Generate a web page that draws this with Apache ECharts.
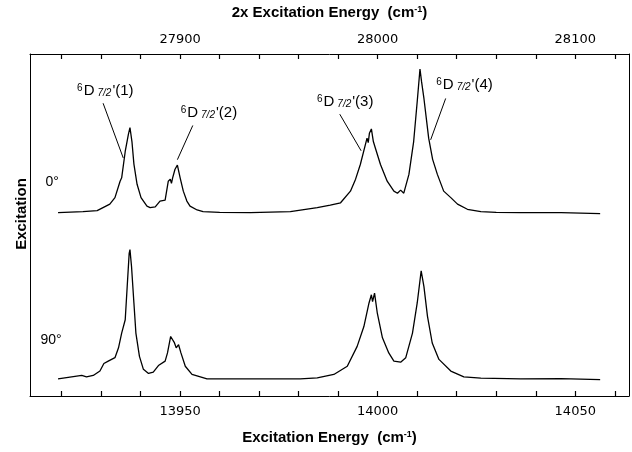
<!DOCTYPE html>
<html>
<head>
<meta charset="utf-8">
<script src="https://cdn.jsdelivr.net/npm/echarts@6/dist/echarts.min.js"></script>
<style>
  html, body { margin: 0; padding: 0; background: #fff; }
  #main { width: 632px; height: 452px; }
</style>
</head>
<body>
<div id="main"></div>
<script>
// energies (cm-1) and excitation signal, 0 deg trace
var energy0 = [13919.1, 13925.4, 13929.0, 13932.2, 13933.5, 13934.8, 13935.2, 13936.1, 13936.9, 13937.3,
  13937.8, 13938.3, 13939.1, 13940.1, 13941.6, 13942.4, 13943.7, 13944.9, 13946.2, 13947.0,
  13947.5, 13947.8, 13948.1, 13948.7, 13949.3, 13950.0, 13950.8, 13951.7, 13952.5, 13954.3,
  13955.8, 13960.0, 13967.8, 13977.9, 13984.7, 13988.0, 13990.6, 13993.1, 13994.4, 13995.6, 13997.3,
  13997.6, 13997.9, 13998.4, 13998.9, 13999.4, 14000.7, 14002.4, 14004.1, 14005.0, 14005.8,
  14006.6, 14007.9, 14009.1, 14010.0, 14010.7, 14011.1, 14011.7, 14012.9, 14013.9, 14015.1,
  14016.7, 14018.5, 14020.2, 14022.7, 14026.1, 14030.0, 14036.2, 14046.4, 14056.3];
var exc0 = [0, 0.3, 0.6, 2.5, 4.4, 9.2, 10.2, 17.9, 22.9, 24.9,
  20.8, 14.2, 8.3, 4.4, 1.9, 1.5, 1.7, 3.4, 3.7, 9.2,
  9.8, 8.6, 10.2, 12.7, 13.9, 10.2, 6.3, 3.4, 1.9, 0.8,
  0.3, 0.1, 0, 0.3, 1.5, 2.2, 2.9, 6.3, 9.8, 14.1, 21.8,
  20.5, 23.2, 24.5, 20.8, 18.9, 14.1, 9.2, 6.3, 5.7, 6.6,
  5.7, 11.2, 20.8, 32.5, 42.0, 38.3, 33.4, 21.8, 15.6, 11.2,
  6.3, 4.4, 2.5, 1.0, 0.3, 0.1, 0, 0, -0.3];

// 90 deg trace
var energy90 = [13919.1, 13925.1, 13926.3, 13928.0, 13929.7, 13930.7, 13931.8, 13933.5, 13934.4, 13935.2,
  13936.1, 13936.6, 13937.1, 13937.3, 13937.7, 13938.3, 13938.8, 13939.7, 13940.7, 13942.0,
  13943.2, 13944.5, 13946.2, 13946.8, 13947.6, 13948.5, 13949.0, 13949.6, 13950.2, 13951.3,
  13953.0, 13956.8, 13967.8, 13980.4, 13984.7, 13988.9, 13992.3, 13994.8, 13996.5, 13997.8,
  13998.4, 13998.7, 13999.2, 13999.9, 14001.2, 14002.8, 14004.1, 14005.8, 14007.1, 14008.8,
  14010.0, 14011.0, 14011.7, 14012.6, 14013.8, 14015.5, 14018.5, 14021.8, 14026.1, 14036.2,
  14046.4, 14056.3];
var exc90 = [0, 1.0, 0.6, 1.0, 2.3, 4.5, 5.2, 6.2, 9.1, 13.4,
  17.3, 27.0, 36.7, 37.8, 32.8, 22.2, 13.4, 6.6, 2.8, 1.6,
  2.0, 3.9, 5.2, 7.6, 12.4, 10.7, 9.1, 10.0, 7.6, 3.7,
  1.3, 0, 0, 0, 0.3, 1.3, 3.7, 9.5, 15.3, 22.2,
  24.6, 22.6, 25.1, 19.2, 12.0, 7.6, 5.2, 4.9, 6.2, 13.4,
  22.2, 31.6, 27.0, 18.3, 10.5, 5.7, 2.3, 0.6, 0.2, 0,
  0.1, -0.2];

var offset0 = 48.6;   // vertical shift of the 0 deg trace

var labelStep = 50;   // bottom axis: labels every 50, ticks every 10
var topLabelStep = 100;

var peakNames = ['(1)', '(2)', '(3)', '(4)'];
var peakTextAt = [[13923.8, 84.2], [13950.0, 77.8], [13984.5, 81.0], [14014.7, 86.0]];
var leaderFrom = [[13930.5, 80.6], [13953.2, 74.1], [13990.4, 77.4], [14017.2, 82.0]];
var leaderTo = [[13935.6, 64.6], [13949.3, 64.1], [13995.8, 66.7], [14013.4, 69.9]];

var angleNames = ['0°', '90°'];
var angleTextAt = [[13915.8, 57.5], [13914.5, 11.3]];

var xMin = 13912, xMax = 14063.6;

var chart = echarts.init(document.getElementById('main'));

var titleRich = {
    sup: { fontSize: 9, fontWeight: 'bold', verticalAlign: 'top', fontFamily: 'Liberation Sans', color: '#000' }
};
var peakRich = {
    sup: { fontSize: 10, verticalAlign: 'top', fontFamily: 'Liberation Sans', color: '#000', padding: [0, 1, 0, 0] },
    sub: { fontSize: 10, fontStyle: 'italic', verticalAlign: 'bottom', fontFamily: 'Liberation Sans', color: '#000', padding: [0, 1, 0, 3] }
};

function zip(xs, ys, off) {
    var out = [];
    for (var i = 0; i < xs.length; i++) {
        out.push([xs[i], ys[i] + off]);
    }
    return out;
}

var markLines = [];
for (var i = 0; i < leaderFrom.length; i++) {
    markLines.push([{ coord: leaderFrom[i] }, { coord: leaderTo[i] }]);
}
var markPoints = [];
for (var i = 0; i < peakNames.length; i++) {
    markPoints.push({
        coord: peakTextAt[i],
        label: { formatter: '{sup|6}D{sub|7/2}\'' + peakNames[i], rich: peakRich }
    });
}
for (var i = 0; i < angleNames.length; i++) {
    markPoints.push({
        coord: angleTextAt[i],
        label: { formatter: angleNames[i], fontSize: 14 }
    });
}

function stepLabel(step) {
    return function (v) {
        var r = Math.round(v);
        if (Math.abs(v - r) > 1e-6 || r % step !== 0) {
            return '';
        }
        return String(r);
    };
}

var option = {
    animation: false,
    backgroundColor: '#fff',
    grid: { left: 30, right: 3, top: 52, bottom: 56 },
    xAxis: [
        {
            type: 'value',
            position: 'bottom',
            min: xMin,
            max: xMax,
            splitNumber: 15,   // gives a tick every 10 cm-1
            name: 'Excitation Energy  (cm{sup|-1})',
            nameLocation: 'middle',
            nameGap: 34,
            nameTextStyle: { fontSize: 15, fontWeight: 'bold', fontFamily: 'Liberation Sans', color: '#000', rich: titleRich },
            axisLine: { show: true, onZero: false, lineStyle: { color: '#000', width: 1 } },
            axisTick: { show: true, inside: true, length: 5, lineStyle: { color: '#000', width: 1.2 } },
            axisLabel: { formatter: stepLabel(labelStep), interval: 0, hideOverlap: false, showMinLabel: false, showMaxLabel: false, margin: 9, fontSize: 13, fontFamily: 'DejaVu Sans', color: '#000' },
            splitLine: { show: false }
        },
        {
            type: 'value',
            position: 'top',
            min: xMin * 2,
            max: xMax * 2,
            splitNumber: 15,   // every 20
            name: '2x Excitation Energy  (cm{sup|-1})',
            nameLocation: 'middle',
            nameGap: 34,
            nameTextStyle: { fontSize: 15, fontWeight: 'bold', fontFamily: 'Liberation Sans', color: '#000', rich: titleRich },
            axisLine: { show: true, onZero: false, lineStyle: { color: '#000', width: 1 } },
            axisTick: { show: true, inside: true, length: 5, lineStyle: { color: '#000', width: 1.2 } },
            axisLabel: { formatter: stepLabel(topLabelStep), interval: 0, hideOverlap: false, showMinLabel: false, showMaxLabel: false, margin: 8, fontSize: 13, fontFamily: 'DejaVu Sans', color: '#000' },
            splitLine: { show: false }
        }
    ],
    yAxis: [
        {
            type: 'value',
            position: 'left',
            min: -5,
            max: 95,
            axisLine: { show: true, onZero: false, lineStyle: { color: '#000', width: 1 } },
            axisTick: { show: false },
            axisLabel: { show: false },
            splitLine: { show: false }
        },
        {
            type: 'value',
            position: 'right',
            min: -5,
            max: 95,
            axisLine: { show: true, onZero: false, lineStyle: { color: '#000', width: 1 } },
            axisTick: { show: false },
            axisLabel: { show: false },
            splitLine: { show: false }
        }
    ],
    graphic: [
        {
            type: 'text',
            x: 22,
            y: 214,
            rotation: Math.PI / 2,
            style: {
                text: 'Excitation',
                fontSize: 15,
                fontWeight: 'bold',
                fontFamily: 'Liberation Sans',
                fill: '#000',
                textAlign: 'center',
                textVerticalAlign: 'middle'
            }
        }
    ],
    series: [
        {
            name: '0°',
            type: 'line',
            data: zip(energy0, exc0, offset0),
            showSymbol: false,
            symbol: 'none',
            lineStyle: { color: '#000', width: 1.3 },
            silent: true,
            markLine: {
                silent: true,
                symbol: ['none', 'none'],
                label: { show: false },
                lineStyle: { color: '#000', width: 1, type: 'solid' },
                data: markLines
            },
            markPoint: {
                silent: true,
                symbol: 'circle',
                symbolSize: 1,
                itemStyle: { color: 'rgba(0,0,0,0)' },
                label: {
                    show: true,
                    position: 'right',
                    distance: 0,
                    color: '#000',
                    fontSize: 15,
                    fontFamily: 'Liberation Sans'
                },
                data: markPoints
            }
        },
        {
            name: '90°',
            type: 'line',
            data: zip(energy90, exc90, 0),
            showSymbol: false,
            symbol: 'none',
            lineStyle: { color: '#000', width: 1.3 },
            silent: true
        }
    ]
};

chart.setOption(option);
</script>
</body>
</html>
